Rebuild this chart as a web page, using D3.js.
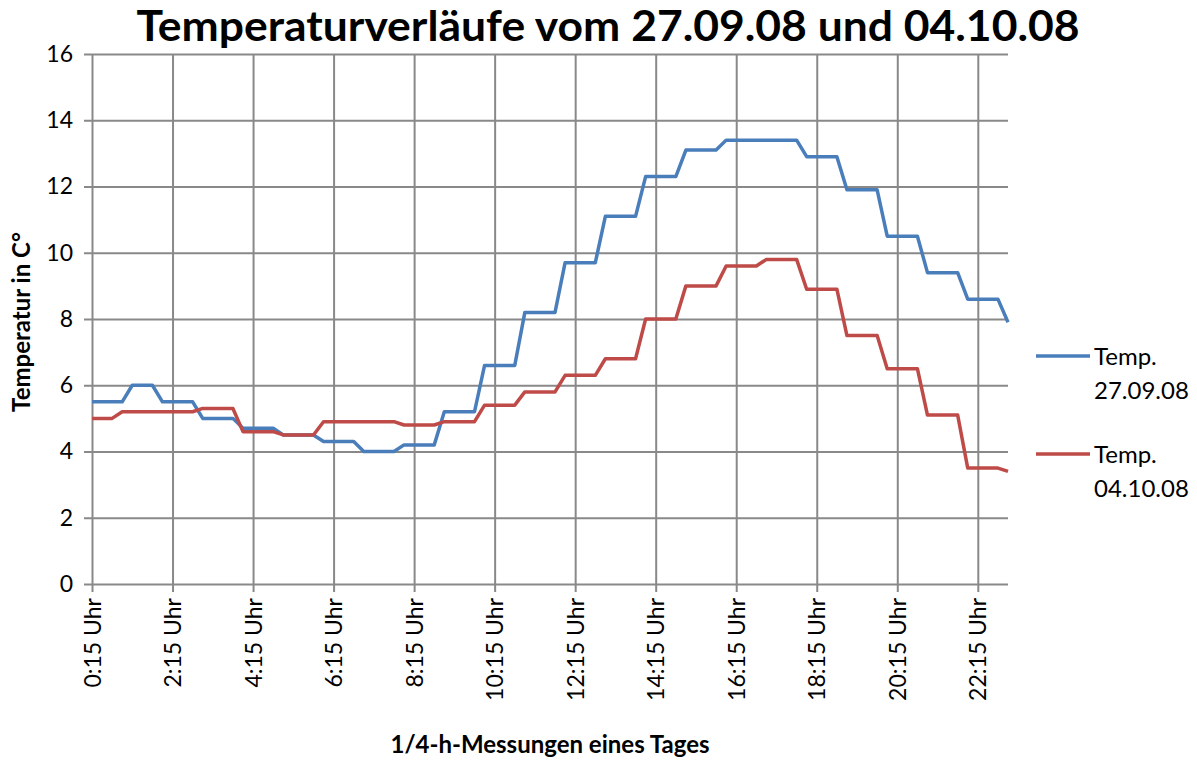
<!DOCTYPE html>
<html>
<head>
<meta charset="utf-8">
<script src="https://cdn.jsdelivr.net/npm/d3@7"></script>
<style>
  body { margin: 0; background: #fff; }
  text { font-family: Lato, "Open Sans", sans-serif; fill: #000; }
</style>
</head>
<body>
<script>
// 1/4-h values, 0:15 Uhr .. 23:00 Uhr
var temp2709 = [
  5.5,5.5,5.5,5.5, 6.0,6.0,6.0, 5.5,5.5,5.5,5.5, 5.0,5.0,5.0,5.0,
  4.7,4.7,4.7,4.7, 4.5,4.5,4.5,4.5, 4.3,4.3,4.3,4.3, 4.0,4.0,4.0,4.0,
  4.2,4.2,4.2,4.2, 5.2,5.2,5.2,5.2, 6.6,6.6,6.6,6.6, 8.2,8.2,8.2,8.2,
  9.7,9.7,9.7,9.7, 11.1,11.1,11.1,11.1, 12.3,12.3,12.3,12.3, 13.1,13.1,13.1,13.1,
  13.4,13.4,13.4,13.4,13.4,13.4,13.4,13.4, 12.9,12.9,12.9,12.9,
  11.9,11.9,11.9,11.9, 10.5,10.5,10.5,10.5, 9.4,9.4,9.4,9.4, 8.6,8.6,8.6,8.6, 7.9
];
var temp0410 = [
  5.0,5.0,5.0, 5.2,5.2,5.2,5.2,5.2,5.2,5.2,5.2, 5.3,5.3,5.3,5.3,
  4.6,4.6,4.6,4.6, 4.5,4.5,4.5,4.5, 4.9,4.9,4.9,4.9,4.9,4.9,4.9,4.9,
  4.8,4.8,4.8,4.8, 4.9,4.9,4.9,4.9, 5.4,5.4,5.4,5.4, 5.8,5.8,5.8,5.8,
  6.3,6.3,6.3,6.3, 6.8,6.8,6.8,6.8, 8.0,8.0,8.0,8.0, 9.0,9.0,9.0,9.0,
  9.6,9.6,9.6,9.6, 9.8,9.8,9.8,9.8, 8.9,8.9,8.9,8.9,
  7.5,7.5,7.5,7.5, 6.5,6.5,6.5,6.5, 5.1,5.1,5.1,5.1, 3.5,3.5,3.5,3.5, 3.4
];
var tickLabels = ["0:15 Uhr","2:15 Uhr","4:15 Uhr","6:15 Uhr","8:15 Uhr","10:15 Uhr",
                  "12:15 Uhr","14:15 Uhr","16:15 Uhr","18:15 Uhr","20:15 Uhr","22:15 Uhr"];
var tickIndex = [0,8,16,24,32,40,48,56,64,72,80,88];
var yTicks = [0,2,4,6,8,10,12,14,16];
var seriesNames = [["Temp.","27.09.08"],["Temp.","04.10.08"]];
var colors = ["#4a7ebb","#be4b48"];

var W = 1197, H = 760;
var plotL = 92, plotR = 1008, plotT = 54, plotB = 584;

var svg = d3.select("body").append("svg")
  .attr("width", W)
  .attr("height", H);

var x = d3.scaleLinear().domain([0, temp2709.length - 1]).range([plotL, plotR]);
var y = d3.scaleLinear().domain([0, 16]).range([plotB, plotT]);

// horizontal grid + y labels
var yAxis = svg.append("g")
  .attr("transform", "translate(" + plotR + ",0)")
  .call(d3.axisLeft(y).tickValues(yTicks).tickSize(plotR - plotL + 8).tickPadding(11));
yAxis.select(".domain").remove();
yAxis.selectAll("line").attr("stroke", "#898989").attr("stroke-width", 2);
yAxis.selectAll("text").style("font-size", "23px").attr("fill", "#000");

// vertical grid + x labels
var xAxis = svg.append("g")
  .attr("transform", "translate(0," + plotT + ")")
  .call(d3.axisBottom(x).tickValues(tickIndex)
    .tickFormat(function(d, i){ return tickLabels[i]; })
    .tickSize(plotB - plotT + 8));
xAxis.select(".domain").remove();
xAxis.selectAll("line").attr("stroke", "#898989").attr("stroke-width", 2);
xAxis.selectAll("text")
  .style("font-size", "23px")
  .attr("fill", "#000")
  .attr("text-anchor", "end")
  .attr("transform", "rotate(-90)")
  .attr("x", -(plotB - plotT + 14))
  .attr("y", 0)
  .attr("dy", "0.35em");

// lines
var line = d3.line()
  .x(function(d, i){ return x(i); })
  .y(function(d){ return y(d); });

[temp2709, temp0410].forEach(function(s, k){
  svg.append("path")
    .datum(s)
    .attr("d", line)
    .attr("fill", "none")
    .attr("stroke", colors[k])
    .attr("stroke-width", 3.5)
    .attr("stroke-linejoin", "round");
});

// title
svg.append("text")
  .attr("x", 608)
  .attr("y", 41)
  .attr("text-anchor", "middle")
  .attr("textLength", 943)
  .attr("lengthAdjust", "spacingAndGlyphs")
  .style("font-size", "42px")
  .style("font-weight", "bold")
  .text("Temperaturverläufe vom 27.09.08 und 04.10.08");

// axis titles
svg.append("text")
  .attr("x", 550)
  .attr("y", 753)
  .attr("text-anchor", "middle")
  .style("font-size", "24px")
  .style("font-weight", "bold")
  .text("1/4-h-Messungen eines Tages");

svg.append("text")
  .attr("transform", "translate(30,322) rotate(-90)")
  .attr("text-anchor", "middle")
  .style("font-size", "24px")
  .style("font-weight", "bold")
  .text("Temperatur in C°");

// legend
var legend = svg.selectAll(".leg")
  .data(seriesNames)
  .enter().append("g")
  .attr("class", "leg")
  .attr("transform", function(d, i){ return "translate(1036," + (356 + i * 98) + ")"; });

legend.append("line")
  .attr("x1", 0).attr("x2", 54)
  .attr("stroke", function(d, i){ return colors[i]; })
  .attr("stroke-width", 3.5);

legend.append("text")
  .attr("x", 58)
  .attr("y", 9)
  .style("font-size", "24px")
  .text(function(d){ return d[0]; });

legend.append("text")
  .attr("x", 58)
  .attr("y", 43)
  .style("font-size", "24px")
  .text(function(d){ return d[1]; });
</script>
</body>
</html>
